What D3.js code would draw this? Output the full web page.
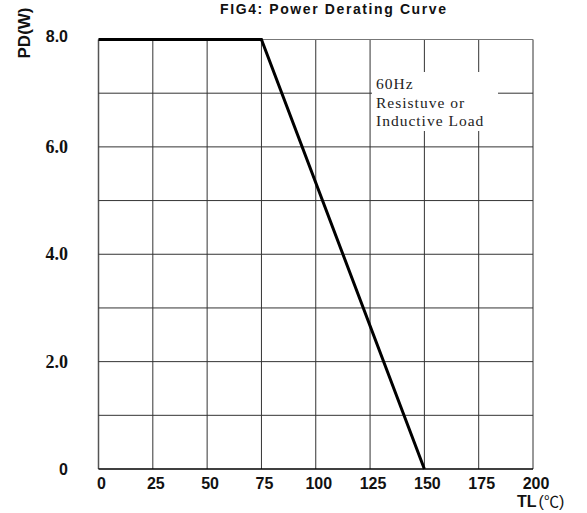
<!DOCTYPE html>
<html><head><meta charset="utf-8">
<script src="https://cdn.jsdelivr.net/npm/d3@7"></script>
<style>body{margin:0;background:#fff}svg{display:block}</style>
</head><body>
<script>
// Data
const curveTemp = [0, 75, 150];          // TL (°C)
const curvePower = [8.0, 8.0, 0];        // PD (W)
const xTicks = [0, 25, 50, 75, 100, 125, 150, 175, 200];
const yGrid = [0, 1, 2, 3, 4, 5, 6, 7, 8];
const yLabels = [0, 2, 4, 6, 8];
const yLabelText = ["0", "2.0", "4.0", "6.0", "8.0"];
const noteLines = ["60Hz", "Resistuve or", "Inductive Load"];
const titleText = "FIG4: Power Derating Curve";

const W = 587, H = 513;
const svg = d3.select("body").append("svg").attr("width", W).attr("height", H);

const x = d3.scaleLinear().domain([0, 200]).range([98.5, 533]);
const y = d3.scaleLinear().domain([0, 8]).range([469, 39.5]);

// grid
const g = svg.append("g");
g.selectAll("line.v").data(xTicks).join("line")
  .attr("x1", d => x(d)).attr("x2", d => x(d))
  .attr("y1", y(8)).attr("y2", y(0))
  .attr("stroke", d => d === 0 ? "#555" : "#333").attr("stroke-width", d => d === 0 ? 1.5 : 1);
g.selectAll("line.h").data(yGrid).join("line")
  .attr("x1", x(0)).attr("x2", x(200))
  .attr("y1", d => y(d)).attr("y2", d => y(d))
  .attr("stroke", d => d === 0 ? "#000" : (d === 8 ? "#777" : "#333"))
  .attr("stroke-width", d => d === 0 ? 1.5 : 1);

// note box (masks grid)
svg.append("rect").attr("x", 372).attr("y", 72).attr("width", 126).attr("height", 59).attr("fill", "#fff");
svg.append("text")
  .attr("font-family", "'Liberation Serif', 'Times New Roman', serif")
  .attr("font-size", 15.5).attr("fill", "#222").attr("letter-spacing", 1)
  .selectAll("tspan").data(noteLines).join("tspan")
  .attr("x", 376).attr("y", (d, i) => 89 + i * 18.5).text(d => d);

// curve
const line = d3.line().x(d => x(d[0])).y(d => y(d[1]));
svg.append("path")
  .attr("d", line(d3.zip(curveTemp, curvePower)))
  .attr("fill", "none").attr("stroke", "#000").attr("stroke-width", 3)
  .attr("stroke-linejoin", "miter");

// x labels
svg.append("g").selectAll("text").data(xTicks).join("text")
  .attr("x", d => x(d) + 3).attr("y", 489)
  .attr("text-anchor", "middle")
  .attr("font-family", "'Liberation Sans', Arial, sans-serif")
  .attr("font-weight", "bold").attr("font-size", 16).attr("fill", "#111")
  .text(d => d);

// y labels
svg.append("g").selectAll("text").data(yLabels).join("text")
  .attr("x", 68).attr("y", d => y(d) + (d === 8 ? 2 : 6))
  .attr("text-anchor", "end")
  .attr("font-family", d => (d === 0 || d === 8) ? "'Liberation Sans', Arial, sans-serif" : "'Liberation Serif', 'Times New Roman', serif")
  .attr("font-weight", "bold").attr("font-size", d => (d === 0 || d === 8) ? 16 : 18).attr("fill", "#111")
  .text((d, i) => yLabelText[i]);

// axis titles
svg.append("text")
  .attr("transform", "translate(30,33) rotate(-90)")
  .attr("text-anchor", "middle")
  .attr("font-family", "'Liberation Sans', Arial, sans-serif")
  .attr("font-weight", "bold").attr("font-size", 17).attr("fill", "#111")
  .text("PD(W)");

const tl = svg.append("text")
  .attr("x", 517).attr("y", 507)
  .attr("font-family", "'Liberation Sans', Arial, sans-serif")
  .attr("font-weight", "bold").attr("font-size", 16).attr("fill", "#111");
tl.append("tspan").text("TL");
tl.append("tspan").attr("font-weight", "normal").attr("dx", 2).text("(");
tl.append("tspan").attr("font-family", "'Noto Sans CJK SC', sans-serif").attr("font-weight", "normal").attr("font-size", 15).text("℃");
tl.append("tspan").attr("font-weight", "normal").text(")");

// title
svg.append("text")
  .attr("x", 333).attr("y", 14).attr("text-anchor", "middle")
  .attr("font-family", "'Liberation Sans', Arial, sans-serif")
  .attr("font-weight", "bold").attr("font-size", 14).attr("fill", "#111")
  .attr("textLength", 226).attr("lengthAdjust", "spacing")
  .text(titleText);
</script>
</body></html>
